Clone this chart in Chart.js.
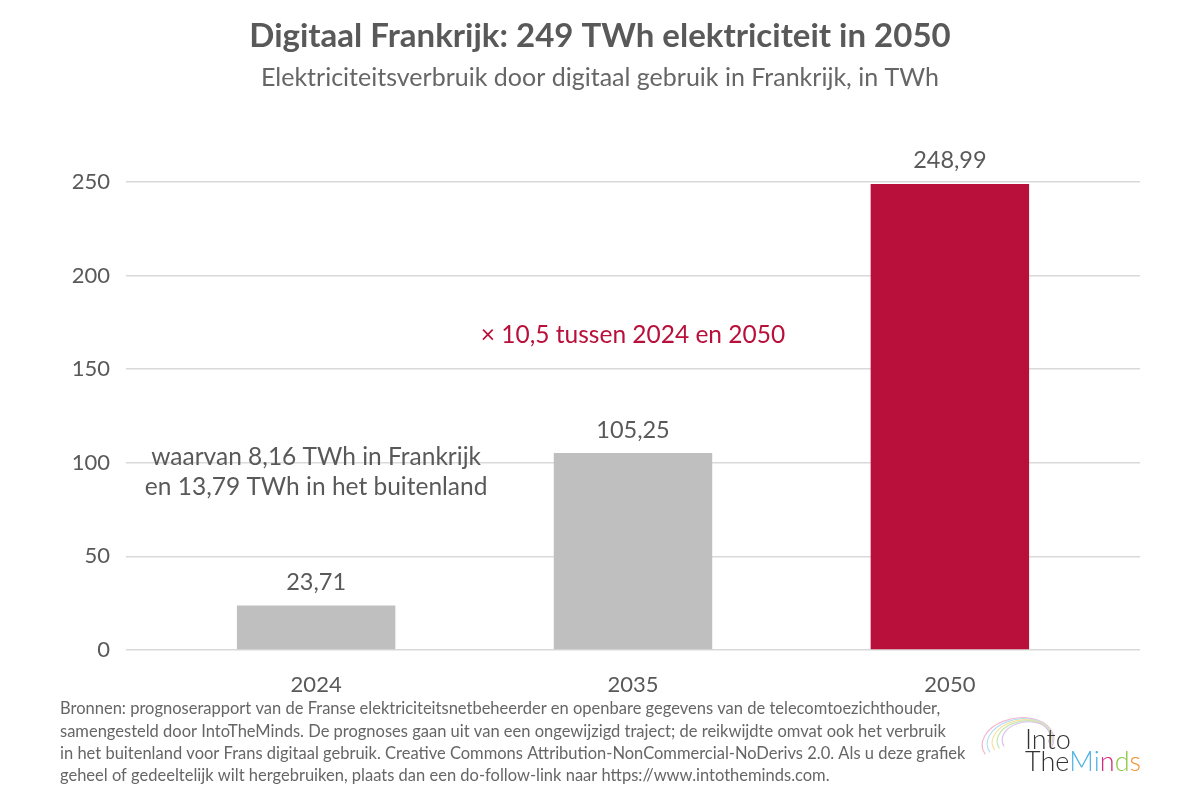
<!DOCTYPE html>
<html>
<head>
<meta charset="utf-8">
<script src="https://cdn.jsdelivr.net/npm/chart.js@4/dist/chart.umd.min.js"></script>
<style>
  html, body { margin: 0; padding: 0; background: #fff; }
  #wrap { width: 1200px; height: 805px; position: relative; }
</style>
</head>
<body>
<div id="wrap"><canvas id="energyChart" width="1200" height="805"></canvas></div>
<script>
// data
const years = ['2024', '2035', '2050'];
const consumption = [23.71, 105.25, 248.99];
const barColors = ['#bfbfbf', '#bfbfbf', '#b8103a'];
const yTicks = [0, 50, 100, 150, 200, 250];

const titleText = 'Digitaal Frankrijk: 249 TWh elektriciteit in 2050';
const subtitleText = 'Elektriciteitsverbruik door digitaal gebruik in Frankrijk, in TWh';

// notes placed in data units (x = category index, y = TWh)
const growthNote = ['× 10,5 tussen 2024 en 2050'];
const splitNote = ['waarvan 8,16 TWh in Frankrijk', 'en 13,79 TWh in het buitenland'];

const sourceLines = [
  'Bronnen: prognoserapport van de Franse elektriciteitsnetbeheerder en openbare gegevens van de telecomtoezichthouder,',
  'samengesteld door IntoTheMinds. De prognoses gaan uit van een ongewijzigd traject; de reikwijdte omvat ook het verbruik',
  'in het buitenland voor Frans digitaal gebruik. Creative Commons Attribution-NonCommercial-NoDerivs 2.0. Als u deze grafiek',
  'geheel of gedeeltelijk wilt hergebruiken, plaats dan een do-follow-link naar https://www.intotheminds.com.'
];

const FONT = 'Lato, "Open Sans", sans-serif';
const GREY_TEXT = '#595959';

// formats 23.71 as 23,71
function fmt(v) {
  return v.toLocaleString('nl-NL', {minimumFractionDigits: 2, maximumFractionDigits: 2});
}

// draws titles, value labels, notes, footer and the logo
const decorations = {
  id: 'decorations',
  afterDatasetsDraw(chart) {
    const ctx = chart.ctx;
    const xs = chart.scales.x;
    const ys = chart.scales.y;
    ctx.save();
    ctx.textAlign = 'center';
    ctx.textBaseline = 'middle';

    // title + subtitle
    ctx.fillStyle = GREY_TEXT;
    ctx.font = 'bold 33px ' + FONT;
    ctx.fillText(titleText, 600, 36);
    ctx.fillStyle = '#666';
    ctx.font = '25px ' + FONT;
    ctx.fillText(subtitleText, 600, 78);

    // value labels above bars
    ctx.fillStyle = GREY_TEXT;
    ctx.font = '23.5px ' + FONT;
    chart.getDatasetMeta(0).data.forEach((bar, i) => {
      ctx.fillText(fmt(consumption[i]), bar.x, bar.y - 23);
    });

    // growth note
    ctx.font = '24.5px ' + FONT;
    ctx.fillStyle = '#b8103a';
    ctx.fillText(growthNote[0], xs.getPixelForValue(1), ys.getPixelForValue(168));

    // split note under the 2024 label
    ctx.fillStyle = GREY_TEXT;
    splitNote.forEach((line, i) => {
      ctx.fillText(line, xs.getPixelForValue(0), ys.getPixelForValue(103) + i * 30);
    });

    // footer
    ctx.textAlign = 'left';
    ctx.fillStyle = '#666';
    ctx.font = '16.5px ' + FONT;
    sourceLines.forEach((line, i) => {
      ctx.fillText(line, 60, 709 + i * 22.3);
    });

    // logo: faint brain outline + wordmark
    const arcs = ['#f7b6d2', '#b8e0f5', '#f9e3a0', '#c8e6b0', '#d9c2ec'];
    ctx.lineWidth = 1.2;
    arcs.forEach((c, i) => {
      ctx.strokeStyle = c;
      ctx.beginPath();
      ctx.ellipse(1018 + i * 2, 742 - i, 36 - i * 3, 24 - i * 2, -0.15, Math.PI * 0.9, Math.PI * 2.15);
      ctx.stroke();
    });
    ctx.font = '300 27px ' + FONT;
    ctx.fillStyle = '#333';
    ctx.fillText('Into', 1025, 740);
    let x = 1025;
    const word = [['The', '#333'], ['M', '#4fb3e3'], ['i', '#4fb3e3'], ['n', '#d4297c'], ['d', '#8cc63f'], ['s', '#f39232']];
    word.forEach(([t, c]) => {
      ctx.fillStyle = c;
      ctx.fillText(t, x, 762);
      x += ctx.measureText(t).width;
    });
    ctx.restore();
  }
};

new Chart(document.getElementById('energyChart'), {
  type: 'bar',
  data: {
    datasets: [{
      data: consumption.map((v, i) => ({x: i, y: v})),
      backgroundColor: barColors,
      borderWidth: 0,
      categoryPercentage: 1,
      barPercentage: 0.5
    }]
  },
  options: {
    responsive: false,
    animation: false,
    events: [],
    layout: {padding: {top: 182, right: 60, left: 0, bottom: 0}},
    plugins: {legend: {display: false}, tooltip: {enabled: false}},
    scales: {
      x: {
        type: 'linear',
        offset: false,
        min: -0.6,
        max: 2.6,
        afterBuildTicks: (scale) => { scale.ticks = years.map((y, i) => ({value: i})); },
        afterFit: (scale) => { scale.height = 155; },
        grid: {display: false, offset: false},
        border: {display: false},
        ticks: {
          callback: (v) => years[v],
          color: GREY_TEXT,
          font: {family: FONT, size: 22},
          padding: 14,
          maxRotation: 0
        }
      },
      y: {
        min: 0,
        max: 250,
        afterBuildTicks: (scale) => { scale.ticks = yTicks.map(v => ({value: v})); },
        afterFit: (scale) => { scale.width = 126; },
        grid: {color: '#d9d9d9', lineWidth: 1.6, drawTicks: false},
        border: {display: false},
        ticks: {
          color: GREY_TEXT,
          font: {family: FONT, size: 22},
          padding: 16
        }
      }
    }
  },
  plugins: [decorations]
});
</script>
</body>
</html>
